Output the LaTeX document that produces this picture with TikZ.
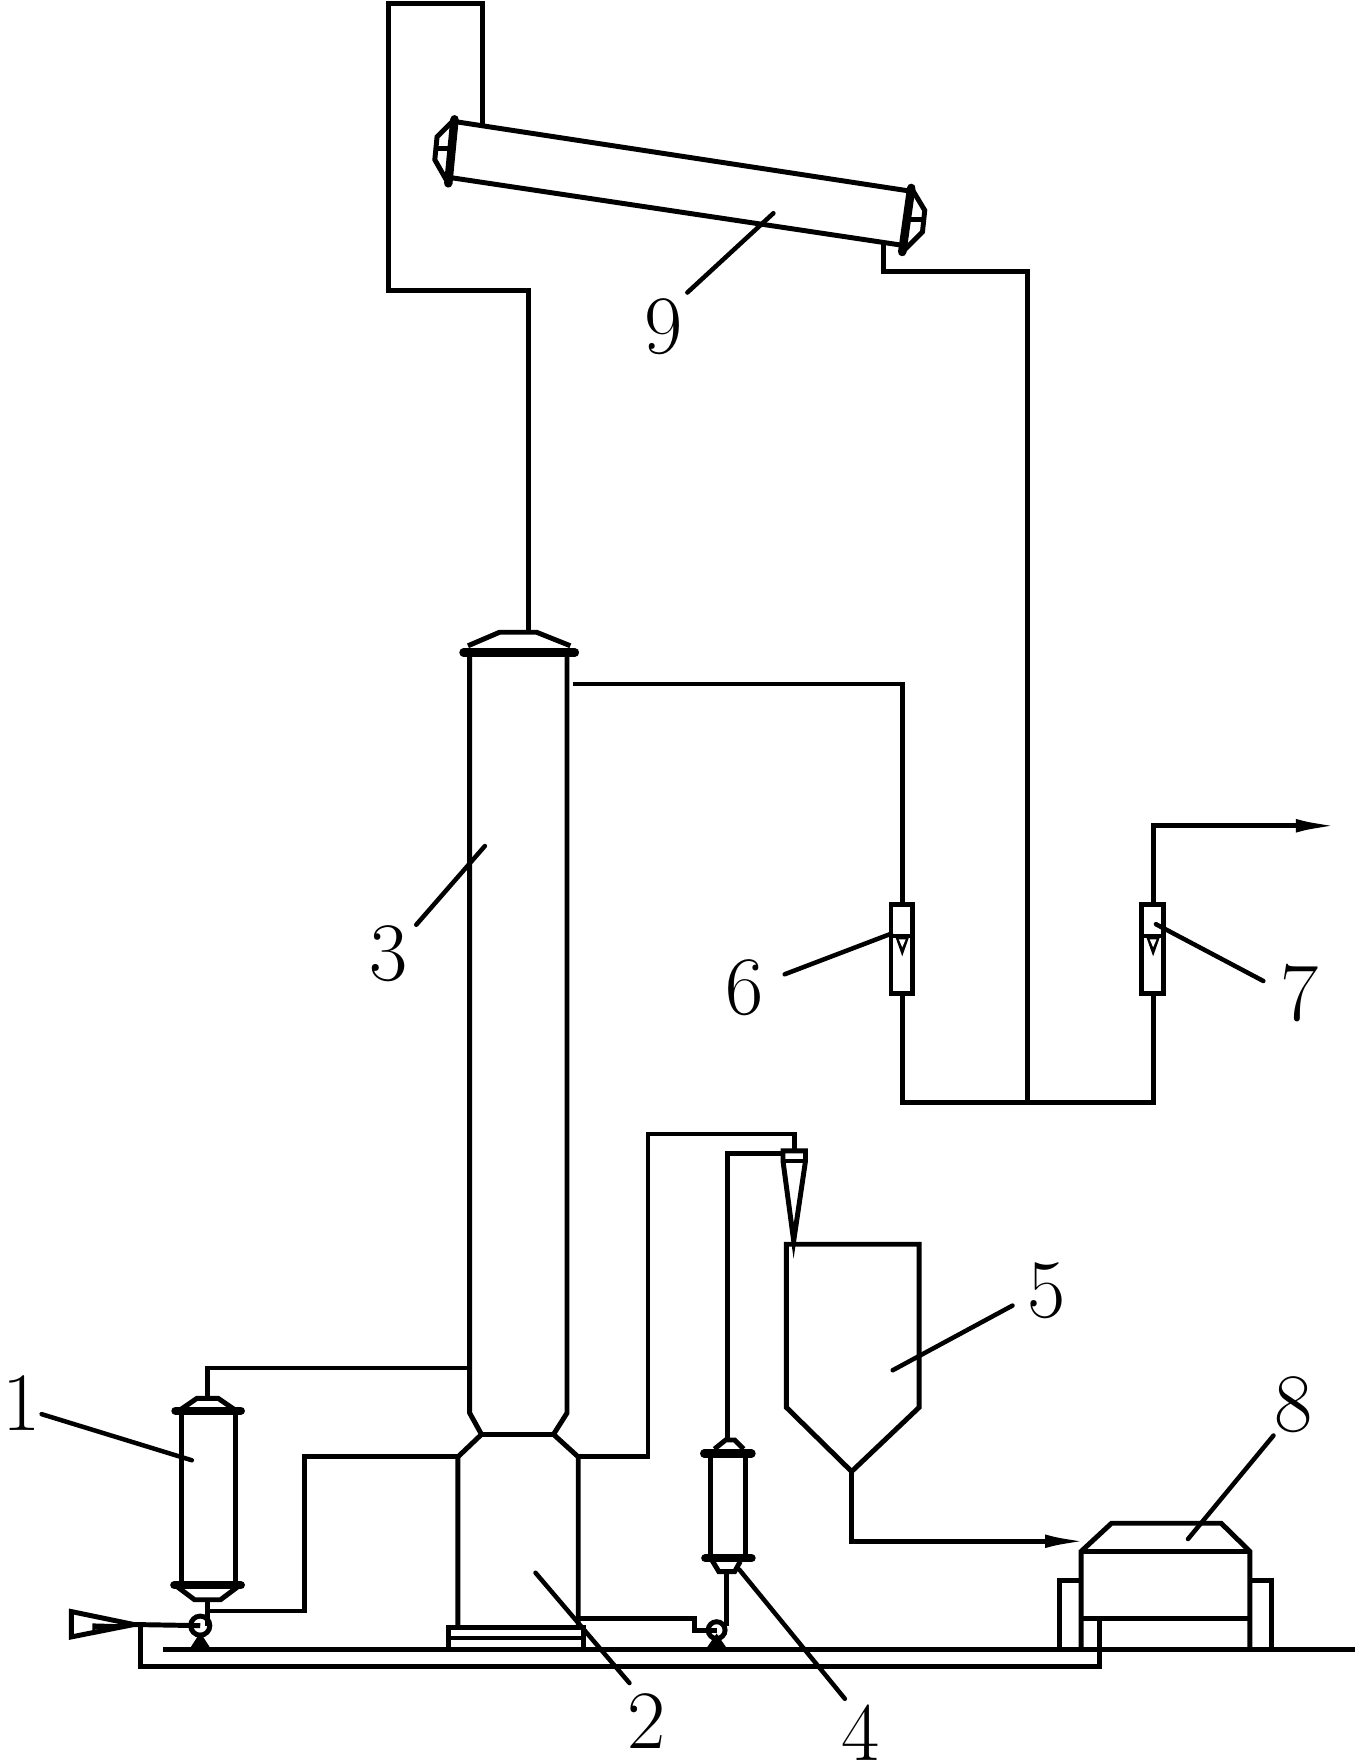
\documentclass[tikz,border=0pt]{standalone}
\usetikzlibrary{arrows.meta}
\tikzset{
  pipe/.style={line width=0.044cm,line join=miter},
  flow/.style={pipe,-{Latex[length=0.38cm,width=0.12cm]}},
  flange/.style={line width=0.075cm,line cap=round},
  leader/.style={line width=0.04cm,line cap=round},
  numlabel/.style={inner sep=0pt,font=\fontsize{21}{24}\selectfont},
}
\begin{document}
\begin{tikzpicture}[x=0.01cm,y=-0.01cm]
            \useasboundingbox (0,0) rectangle (1215,1568);

            % Marking pipe points
            \coordinate (inlettip) at (119,1444);
            \coordinate (pumpa) at (178,1445);
            \coordinate (loopa) at (125,1444);
            \coordinate (loopb) at (977,1481);
            \coordinate (loopc) at (977,1439);
            \coordinate (vesselatop) at (184.5,1243);
            \coordinate (vesselabot) at (184.5,1422);
            \coordinate (vesselajoin) at (184.5,1432);
            \coordinate (columnleft) at (416,1216);
            \coordinate (furnaceleft) at (407,1295);
            \coordinate (furnaceright) at (514,1295);
            \coordinate (furnacelow) at (514,1439);
            \coordinate (pumpb) at (637,1449);
            \coordinate (vesselbtop) at (647,1280);
            \coordinate (vesselbbot) at (645.5,1397);
            \coordinate (cyclonein) at (696,1025);
            \coordinate (cyclonetop) at (706,1023);
            \coordinate (hopperout) at (757,1308);
            \coordinate (dryerfeed) at (967,1370);
            \coordinate (columntop) at (470,562);
            \coordinate (stackb) at (345,258);
            \coordinate (stacka) at (345,3);
            \coordinate (dryerin) at (429,111);
            \coordinate (dryerout) at (785,216);
            \coordinate (columnside) at (509,608);
            \coordinate (meterftop) at (802,804);
            \coordinate (meterfbot) at (802,883);
            \coordinate (metergtop) at (1025,804);
            \coordinate (metergbot) at (1025,883);
            \coordinate (teejoin) at (913,980);
            \coordinate (outlet) at (1190,734);

            % Drawing inlet funnel and pump of vessel 1
            \draw [pipe] (63.5,1432.5) -- (inlettip) -- (63.5,1455) -- cycle;
            \fill (82,1443) -- (116,1444) -- (82,1449) -- cycle;
            \draw [pipe] (inlettip) -- (pumpa);
            \draw [pipe] (pumpa) circle (0.085cm);
            \fill (169,1465) -- (187,1465) -- (178,1451) -- cycle;

            % Drawing vessel 1
            \draw [pipe] (161,1257) -- (161,1409);
            \draw [pipe] (209.5,1257) -- (209.5,1409);
            \draw [flange] (156,1254) -- (214,1254);
            \draw [flange] (155,1409) -- (214,1409);
            \draw [pipe] (159,1254) -- (175,1243) -- (194,1243) -- (210,1254);
            \draw [pipe] (157,1410) -- (173,1422) -- (196,1422) -- (212,1410);

            % Drawing furnace 2 and column 3
            \draw [pipe] (417.5,580) -- (417.5,1256) -- (428,1275) -- (407,1295) -- (407,1446);
            \draw [pipe] (504,580) -- (504,1256) -- (492,1275) -- (514,1295) -- (514,1446);
            \draw [pipe] (428,1275) -- (492,1275);
            \draw [pipe] (399,1467) -- (399,1447) -- (519,1447) -- (519,1467);
            \draw [pipe] (399,1456) -- (519,1456);
            \draw [flange] (412,580) -- (511,580);
            \draw [pipe] (416,574) -- (444,562) -- (477,562) -- (507,574);

            % Drawing ground and return loop
            \draw [pipe] (145,1466) -- (1204,1466);
            \draw [pipe] (loopa) |- (loopb) -- (loopc);

            % Drawing cyclone and hopper 5
            \draw [pipe] (696,1023) -- (716,1023) -- (716,1032) -- (705.5,1103) -- (696,1032) -- cycle;
            \draw [pipe] (696,1032) -- (716,1032);
            \draw [pipe] (699,1106) -- (817,1106) -- (817,1251) -- (757,1308) -- (699,1251) -- cycle;

            % Drawing vessel 4 and its pump
            \draw [pipe] (631.5,1292) -- (631.5,1385);
            \draw [pipe] (663,1292) -- (663,1385);
            \draw [flange] (626,1292) -- (668,1292);
            \draw [flange] (627,1385) -- (668,1385);
            \draw [pipe] (635,1288) -- (645,1280) -- (653,1280) -- (661,1288);
            \draw [pipe] (633,1387) -- (639,1397) -- (653,1397) -- (658,1388);
            \draw [pipe] (pumpb) circle (0.075cm);
            \fill (628,1465) -- (646,1465) -- (637,1452) -- cycle;

            % Drawing dryer 9
            \draw [pipe] (404,108) -- (810,170);
            \draw [pipe] (401.5,158) -- (802,218);
            \draw [flange] (404,106) -- (398.5,163);
            \draw [flange] (810,167) -- (802,224);
            \draw [pipe] (404,106) -- (388.5,121.5) -- (386.5,142) -- (398.5,163);
            \draw [pipe] (388.5,132) -- (402,132);
            \draw [pipe] (810,167) -- (822,187) -- (820,206) -- (802,224);
            \draw [pipe] (806,195) -- (821.5,195);

            % Drawing separator 8
            \draw [pipe] (961,1466) -- (961,1379) -- (988,1354) -- (1085.5,1354) -- (1111,1379) -- (1111,1466);
            \draw [pipe] (961,1379) -- (1111,1379);
            \draw [pipe] (961,1439) -- (1111,1439);
            \draw [pipe] (942,1466) -- (942,1405) -- (961,1405);
            \draw [pipe] (1130,1466) -- (1130,1405) -- (1111,1405);

            % Drawing flowmeters 6 and 7
            \foreach \meterx in {802,1025} {
              \draw [pipe] (\meterx-10,804) rectangle (\meterx+9,883);
              \draw [pipe] (\meterx-10,832) -- (\meterx+9,832);
              \fill (\meterx-6,833) -- (\meterx+6,833) -- (\meterx,850) -- cycle;
              \fill [white] (\meterx-3,835) -- (\meterx+3,835) -- (\meterx,842) -- cycle;
            }

            % Drawing pipe connections
            \draw [pipe] (vesselatop) |- (columnleft);
            \draw [pipe] (furnaceleft) -| (271,1432) -- (vesselajoin);
            \draw [pipe] (vesselabot) -- (184.5,1445);
            \draw [pipe] (furnaceright) -| (576,1008) -| (cyclonetop);
            \draw [pipe] (furnacelow) -| (617,1449) -- (pumpb);
            \draw [pipe] (vesselbbot) -- (645.5,1445);
            \draw [pipe] (vesselbtop) |- (cyclonein);
            \draw [flow] (hopperout) |- (dryerfeed);
            \draw [pipe] (columntop) |- (stackb) -- (stacka) -| (dryerin);
            \draw [pipe] (dryerout) |- (913,241.5) -- (teejoin);
            \draw [pipe] (columnside) -| (meterftop);
            \draw [pipe] (meterfbot) |- (teejoin) -| (metergbot);
            \draw [flow] (metergtop) |- (outlet);

            % Marking labels
            \node [numlabel] (labela) at (19,1247) {1};
            \node [numlabel] (labelb) at (575,1530) {2};
            \node [numlabel] (labelc) at (345,848) {3};
            \node [numlabel] (labeld) at (765,1540) {4};
            \node [numlabel] (labele) at (930,1147) {5};
            \node [numlabel] (labelf) at (662,878) {6};
            \node [numlabel] (labelg) at (1155,883) {7};
            \node [numlabel] (labelh) at (1150,1249) {8};
            \node [numlabel] (labeli) at (590,290) {9};

            % Drawing leaders
            \draw [leader] (37,1257) -- (170.5,1298);
            \draw [leader] (476,1398) -- (559.5,1496);
            \draw [leader] (370,822) -- (431,752);
            \draw [leader] (657,1395) -- (751,1510);
            \draw [leader] (900,1160.5) -- (793.5,1218);
            \draw [leader] (697.5,866) -- (792,830);
            \draw [leader] (1123,872) -- (1027.5,821.5);
            \draw [leader] (1132,1276) -- (1056,1368);
            \draw [leader] (611,260) -- (687.5,189.5);
\end{tikzpicture}
\end{document}
